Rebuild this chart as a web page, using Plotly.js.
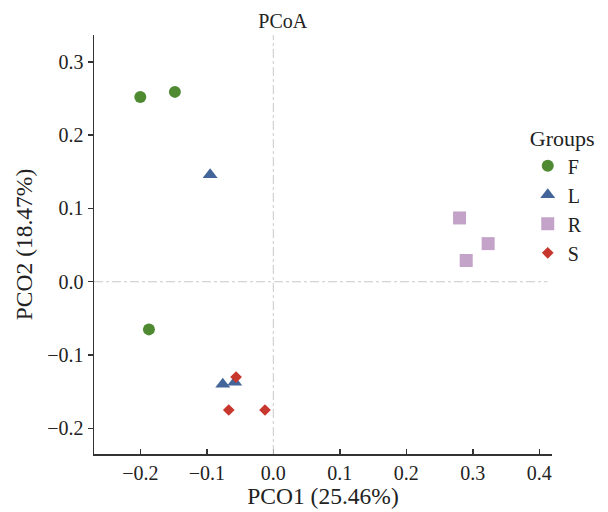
<!DOCTYPE html>
<html>
<head>
<meta charset="utf-8">
<script src="https://cdn.plot.ly/plotly-3.0.1.min.js"></script>
<style>html,body{margin:0;padding:0;background:#fff;}#chart{width:608px;height:512px;}</style>
</head>
<body>
<div id="chart"></div>
<script>
var groups = ["F", "L", "R", "S"];
var fX = [-0.200, -0.148, -0.187];
var fY = [0.252, 0.259, -0.065];
var lX = [-0.095, -0.076, -0.058];
var lY = [0.146, -0.140, -0.137];
var rX = [0.280, 0.323, 0.290];
var rY = [0.087, 0.052, 0.029];
var sX = [-0.056, -0.067, -0.0125];
var sY = [-0.130, -0.175, -0.175];
var xTicks = [-0.2, -0.1, 0.0, 0.1, 0.2, 0.3, 0.4];
var yTicks = [-0.2, -0.1, 0.0, 0.1, 0.2, 0.3];

var colors = ["#4f8a33", "#44659a", "#c4a3c9", "#c8372d"];
var symbols = ["circle", "triangle-up", "square", "diamond"];
var sizes = [12, 13, 13, 9];
var xs = [fX, lX, rX, sX];
var ys = [fY, lY, rY, sY];

var traces = groups.map(function (g, i) {
  return {
    type: "scatter", mode: "markers", name: g,
    x: xs[i], y: ys[i],
    marker: {color: colors[i], symbol: symbols[i], size: sizes[i], line: {width: 0}}
  };
});

var fam = "Liberation Serif, Times New Roman, serif";
var ink = "#222";

var layout = {
  width: 608, height: 512,
  margin: {l: 94, r: 56, t: 35, b: 58, autoexpand: false},
  paper_bgcolor: "#fff", plot_bgcolor: "#fff",
  font: {family: fam, size: 20, color: ink},
  title: {text: "PCoA", font: {family: fam, size: 20, color: ink},
          x: 0.465, xref: "container", xanchor: "center", y: 0.959, yref: "container", yanchor: "middle"},
  xaxis: {
    range: [-0.2696, 0.419], tickvals: xTicks, tickformat: ".1f",
    showgrid: false, zeroline: false, showline: true, linecolor: "#333", linewidth: 1.5,
    ticks: "inside", ticklen: 5, tickwidth: 1.5, tickcolor: "#333",
    tickfont: {family: fam, size: 20, color: ink},
    title: {text: "PCO1 (25.46%)", font: {family: fam, size: 23.5, color: ink}, standoff: 2}
  },
  yaxis: {
    range: [-0.235, 0.3366], tickvals: yTicks, tickformat: ".1f",
    showgrid: false, zeroline: false, showline: true, linecolor: "#333", linewidth: 1.5,
    ticks: "outside", ticklen: 5, tickwidth: 1.5, tickcolor: "#333",
    tickfont: {family: fam, size: 20, color: ink},
    title: {text: "PCO2 (18.47%)", font: {family: fam, size: 23.5, color: ink}, standoff: 8}
  },
  shapes: [
    {type: "line", xref: "x", yref: "paper", x0: 0, x1: 0, y0: 0, y1: 1,
     line: {color: "#c8c8c8", width: 1, dash: "dashdot"}},
    {type: "line", xref: "paper", yref: "y", x0: 0, x1: 0.99, y0: 0, y1: 0,
     line: {color: "#c8c8c8", width: 1, dash: "dashdot"}}
  ],
  showlegend: true,
  legend: {
    xref: "container", yref: "container",
    x: 0.868, xanchor: "left", y: 0.77, yanchor: "top",
    bgcolor: "rgba(0,0,0,0)", borderwidth: 0,
    font: {family: fam, size: 20, color: ink},
    title: {text: "Groups", font: {family: fam, size: 22, color: ink}},
    itemwidth: 30, tracegroupgap: 0
  }
};

Plotly.newPlot("chart", traces, layout, {displayModeBar: false, staticPlot: true});
</script>
</body>
</html>
